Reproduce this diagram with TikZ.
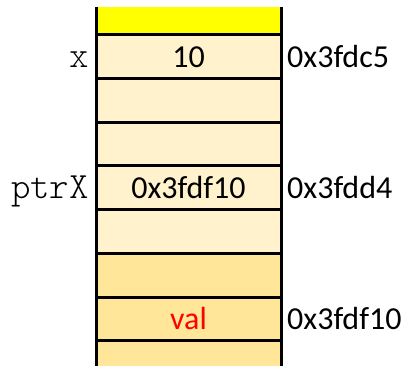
\documentclass[tikz,border=0pt]{standalone}
\usepackage{fontspec}
\setmainfont{Carlito}
\newfontfamily\lightmono{lmmonolt10-regular.otf}
\definecolor{cellA}{HTML}{FFF2CC}
\definecolor{cellB}{HTML}{FFE699}
\definecolor{topY}{HTML}{FFFF00}
\definecolor{valred}{HTML}{FF0000}
\begin{document}
\begin{tikzpicture}[x=1pt,y=-1pt,
  txt/.style={font=\fontsize{32}{32}\selectfont,inner sep=0pt},
  namelbl/.style={font=\lightmono\fontsize{37}{37}\selectfont,inner sep=0pt,anchor=base east},
  addr/.style={txt,anchor=base west},
  cell/.style={txt,anchor=base},
  rule/.style={line width=3pt}]
\useasboundingbox (0,0) rectangle (410,366);
% fills
\fill[topY] (96,7) rectangle (281,34.5);
\fill[cellA] (96,34.5) rectangle (281,254);
\fill[cellB] (96,254) rectangle (281,366);
% horizontal rules
\foreach \yy in {34.5,79,122.5,166,210,254,298,341}
  \draw[rule] (96,\yy) -- (283,\yy);
% vertical rules
\draw[rule] (96,7) -- (96,366);
\draw[rule] (281,7) -- (281,366);
% texts
\node[cell] (v1) at (188.5,68) {10};
\node[cell] (v2) at (188.5,199) {0x3fdf10};
\node[cell,text=valred] (v3) at (188.5,330) {val};
\node[namelbl] (n1) at (89,68) {x};
\node[namelbl] (n2) at (89,199) {ptrX};
\node[addr] (a1) at (287,68) {0x3fdc5};
\node[addr] (a2) at (287,199) {0x3fdd4};
\node[addr] (a3) at (287,330) {0x3fdf10};
\end{tikzpicture}
\end{document}
